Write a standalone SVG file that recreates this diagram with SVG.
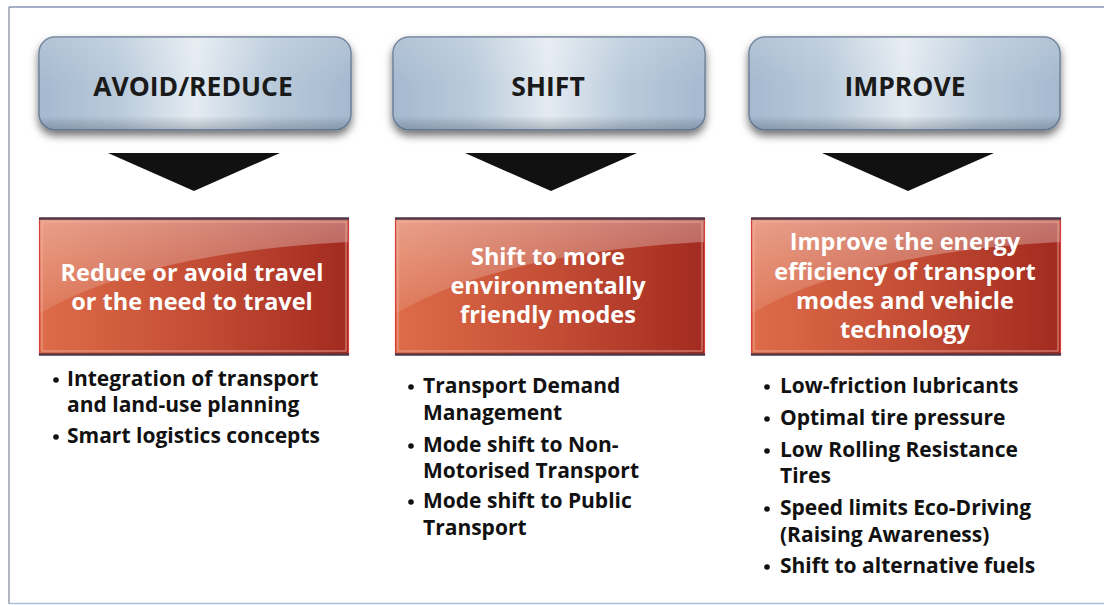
<svg xmlns="http://www.w3.org/2000/svg" width="1104" height="605" viewBox="0 0 1104 605">
  <defs>
    <linearGradient id="hdrH" x1="0" y1="0" x2="1" y2="0">
      <stop offset="0" stop-color="#a5b9cf"/>
      <stop offset="0.25" stop-color="#b9cadb"/>
      <stop offset="0.5" stop-color="#e4ebf1"/>
      <stop offset="0.75" stop-color="#b9cadb"/>
      <stop offset="1" stop-color="#a5b9cf"/>
    </linearGradient>
    <linearGradient id="hdrV" x1="0" y1="0" x2="0" y2="1">
      <stop offset="0" stop-color="#ffffff" stop-opacity="0.15"/>
      <stop offset="0.5" stop-color="#ffffff" stop-opacity="0"/>
      <stop offset="0.85" stop-color="#000000" stop-opacity="0"/>
      <stop offset="1" stop-color="#1c2a40" stop-opacity="0.25"/>
    </linearGradient>
    <linearGradient id="redH" x1="0" y1="0" x2="1" y2="0">
      <stop offset="0" stop-color="#de6c49"/>
      <stop offset="0.5" stop-color="#c44e35"/>
      <stop offset="1" stop-color="#a22a20"/>
    </linearGradient>
    <linearGradient id="gloss" x1="0" y1="0" x2="0" y2="1">
      <stop offset="0" stop-color="#ffffff" stop-opacity="0.36"/>
      <stop offset="1" stop-color="#ffffff" stop-opacity="0.1"/>
    </linearGradient>
    <filter id="shadow" x="-10%" y="-20%" width="120%" height="150%">
      <feDropShadow dx="0" dy="5" stdDeviation="4" flood-color="#000000" flood-opacity="0.55"/>
    </filter>
    <style>
      .hdr { fill: url(#hdrH); stroke: #6b7f98; stroke-width: 1.5; }
      .hdrShade { fill: url(#hdrV); }
      .hdrText { font-family: "Open Sans", "Liberation Sans", sans-serif; font-weight: 700; font-size: 26.5px; fill: #1a1a1a; text-anchor: middle; }
      .red { fill: url(#redH); }
      .gloss { fill: url(#gloss); }
      .redEdgeTB { stroke: #4f3646; stroke-width: 2.5; }
      .redEdgeS { stroke: #d9403a; stroke-width: 1.2; }
      .redInner { fill: none; stroke: #f2b2a2; stroke-width: 1; stroke-opacity: 0.8; }
      .redText { font-family: "Open Sans", "Liberation Sans", sans-serif; font-weight: 700; font-size: 23.5px; fill: #ffffff; text-anchor: middle; }
      .arrow { fill: #111111; }
      .bul { font-family: "Open Sans", "Liberation Sans", sans-serif; font-weight: 700; font-size: 21px; fill: #111111; }
      .dot { fill: #111111; }
    </style>
  </defs>

  <rect x="0" y="0" width="1104" height="605" fill="#ffffff"/>
  <!-- frame -->
  <line x1="9" y1="7" x2="1104" y2="7" stroke="#4f5f94" stroke-width="1.2"/>
  <line x1="9" y1="7" x2="9" y2="604" stroke="#7f8593" stroke-width="1.2"/>
  <line x1="9" y1="603.5" x2="1104" y2="603.5" stroke="#a9c0de" stroke-width="1.5"/>

  <!-- header nodes -->
  <g id="header-avoid">
    <rect class="hdr" x="39" y="37" width="312" height="93" rx="16" filter="url(#shadow)"/>
    <rect class="hdrShade" x="39" y="37" width="312" height="93" rx="16"/>
    <text class="hdrText" x="193" y="96">AVOID/REDUCE</text>
  </g>
  <g id="header-shift">
    <rect class="hdr" x="393" y="37" width="312" height="93" rx="16" filter="url(#shadow)"/>
    <rect class="hdrShade" x="393" y="37" width="312" height="93" rx="16"/>
    <text class="hdrText" x="548" y="96">SHIFT</text>
  </g>
  <g id="header-improve">
    <rect class="hdr" x="749" y="37" width="311" height="93" rx="16" filter="url(#shadow)"/>
    <rect class="hdrShade" x="749" y="37" width="311" height="93" rx="16"/>
    <text class="hdrText" x="905" y="96">IMPROVE</text>
  </g>

  <!-- connectors (down arrows) -->
  <g id="connectors">
    <polygon class="arrow" points="108,153 280,153 194,191"/>
    <polygon class="arrow" points="465,153 637,153 551,191"/>
    <polygon class="arrow" points="822,153 994,153 908,191"/>
  </g>

  <!-- goal boxes -->
  <g id="goal-avoid" transform="translate(39,218)">
    <rect class="red" x="0" y="0" width="310" height="137"/>
    <path class="gloss" d="M0,0 H310 V24 C230,28 90,42 0,96 Z"/>
    <rect class="redInner" x="3" y="4" width="304" height="129"/>
    <line class="redEdgeS" x1="0.5" y1="0" x2="0.5" y2="137"/>
    <line class="redEdgeS" x1="309.5" y1="0" x2="309.5" y2="137"/>
    <line class="redEdgeTB" x1="0" y1="0.5" x2="310" y2="0.5"/>
    <line class="redEdgeTB" x1="0" y1="136.5" x2="310" y2="136.5"/>
    <text class="redText" x="153" y="63">Reduce or avoid travel</text>
    <text class="redText" x="153" y="92">or the need to travel</text>
  </g>
  <g id="goal-shift" transform="translate(395,218)">
    <rect class="red" x="0" y="0" width="310" height="137"/>
    <path class="gloss" d="M0,0 H310 V24 C230,28 90,42 0,96 Z"/>
    <rect class="redInner" x="3" y="4" width="304" height="129"/>
    <line class="redEdgeS" x1="0.5" y1="0" x2="0.5" y2="137"/>
    <line class="redEdgeS" x1="309.5" y1="0" x2="309.5" y2="137"/>
    <line class="redEdgeTB" x1="0" y1="0.5" x2="310" y2="0.5"/>
    <line class="redEdgeTB" x1="0" y1="136.5" x2="310" y2="136.5"/>
    <text class="redText" x="153" y="47">Shift to more</text>
    <text class="redText" x="153" y="76">environmentally</text>
    <text class="redText" x="153" y="105">friendly modes</text>
  </g>
  <g id="goal-improve" transform="translate(751,218)">
    <rect class="red" x="0" y="0" width="310" height="137"/>
    <path class="gloss" d="M0,0 H310 V24 C230,28 90,42 0,96 Z"/>
    <rect class="redInner" x="3" y="4" width="304" height="129"/>
    <line class="redEdgeS" x1="0.5" y1="0" x2="0.5" y2="137"/>
    <line class="redEdgeS" x1="309.5" y1="0" x2="309.5" y2="137"/>
    <line class="redEdgeTB" x1="0" y1="0.5" x2="310" y2="0.5"/>
    <line class="redEdgeTB" x1="0" y1="136.5" x2="310" y2="136.5"/>
    <text class="redText" x="154" y="32">Improve the energy</text>
    <text class="redText" x="154" y="62">efficiency of transport</text>
    <text class="redText" x="154" y="91">modes and vehicle</text>
    <text class="redText" x="154" y="120">technology</text>
  </g>

  <!-- bullet lists -->
  <g id="list-avoid">
    <circle class="dot" cx="56" cy="380" r="2.8"/>
    <text class="bul" x="67" y="386">Integration of transport</text>
    <text class="bul" x="67" y="412">and land-use planning</text>
    <circle class="dot" cx="56" cy="437" r="2.8"/>
    <text class="bul" x="67" y="443">Smart logistics concepts</text>
  </g>
  <g id="list-shift">
    <circle class="dot" cx="411" cy="387" r="2.8"/>
    <text class="bul" x="423" y="393">Transport Demand</text>
    <text class="bul" x="423" y="420">Management</text>
    <circle class="dot" cx="411" cy="446" r="2.8"/>
    <text class="bul" x="423" y="452">Mode shift to Non-</text>
    <text class="bul" x="423" y="478">Motorised Transport</text>
    <circle class="dot" cx="411" cy="502" r="2.8"/>
    <text class="bul" x="423" y="508">Mode shift to Public</text>
    <text class="bul" x="423" y="535">Transport</text>
  </g>
  <g id="list-improve">
    <circle class="dot" cx="767" cy="387" r="2.8"/>
    <text class="bul" x="780" y="393">Low-friction lubricants</text>
    <circle class="dot" cx="767" cy="419" r="2.8"/>
    <text class="bul" x="780" y="425">Optimal tire pressure</text>
    <circle class="dot" cx="767" cy="451" r="2.8"/>
    <text class="bul" x="780" y="457">Low Rolling Resistance</text>
    <text class="bul" x="780" y="483">Tires</text>
    <circle class="dot" cx="767" cy="509" r="2.8"/>
    <text class="bul" x="780" y="515">Speed limits Eco-Driving</text>
    <text class="bul" x="780" y="542">(Raising Awareness)</text>
    <circle class="dot" cx="767" cy="567" r="2.8"/>
    <text class="bul" x="780" y="573">Shift to alternative fuels</text>
  </g>
</svg>
